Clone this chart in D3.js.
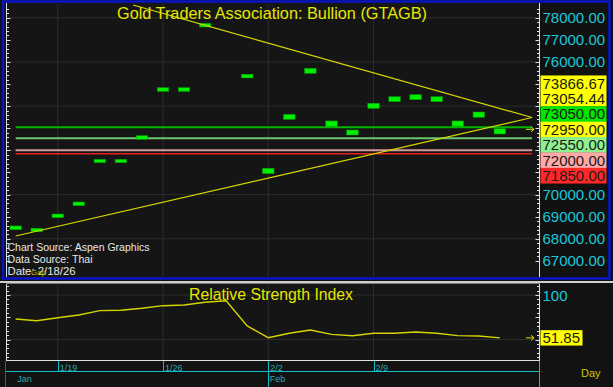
<!DOCTYPE html>
<html>
<head>
<style>
  body {
    margin: 0;
    background-color: #0c0c0c;
  }
  svg {
    display: block;
    font-family: 'Liberation Sans', Arial, sans-serif;
  }
</style>
<script src="https://cdn.jsdelivr.net/npm/d3@7"></script>
</head>
<body>
<script>
// trading days shown on the chart
const days = ['1/15', '1/16', '1/19', '1/20', '1/21', '1/22', '1/23', '1/26', '1/27', '1/28', '1/29', '1/30',
  '2/2', '2/3', '2/4', '2/5', '2/6', '2/9', '2/10', '2/11', '2/12', '2/13', '2/16', '2/17'];

// bar top / bottom (1/29 sits above the visible range)
const barHigh = [68580, 68475, 69120, 69665, 71595, 71595, 72665, 74835, 74835, 77745, null, 75440,
  71190, 73630, 75710, 73330, 72920, 74130, 74425, 74520, 74425, 73330, 73735, 72980];
const barLow = [68410, 68320, 68955, 69500, 71440, 71440, 72500, 74670, 74670, 77580, null, 75275,
  70945, 73405, 75485, 73070, 72695, 73900, 74200, 74290, 74200, 73070, 73495, 72740];

const rsi = [73.0, 71.1, 74.5, 77.5, 82.4, 82.8, 85.1, 88.0, 88.8, 91.8, 93.6, 65.2,
  52.0, 57.0, 60.7, 55.8, 54.3, 57.0, 57.0, 58.4, 57.0, 54.3, 53.9, 51.85];

const weekTicks = ['1/19', '1/26', '2/2', '2/9'];
const monthLabels = ['Jan', 'Feb'];
const monthStarts = ['1/15', '2/2'];

const priceLabels = d3.range(67000, 78001, 1000);
const priceGrid = d3.range(68000, 78001, 2000);

// horizontal study lines
const levels = [73050, 72550, 72000, 71850];
const levelColors = ['#00b400', '#6cc46c', '#d49898', '#e42020'];

// trend lines as [day index, price]
const trendDown = [[5.58, 78574], [24.53, 73486]];
const trendUp = [[0, 68126], [24.53, 73486]];

const tagValues = [73866.67, 73054.44, 73050, 72950, 72550, 72000, 71850];
const tagColors = ['#ffff00', '#ffff00', '#00e600', '#ffff00', '#8ef08e', '#ffa8a8', '#ff2828'];
const lastPrice = 72950;
const rsiLast = 51.85;

const svg = d3.select('body')
  .append('svg')
  .attr('width', 613)
  .attr('height', 387);

const x = d3.scaleLinear().domain([-0.41, 24.86]).range([7, 539]);
const y = d3.scaleLinear().domain([78000, 67000]).range([17.7, 260.9]);
const yr = d3.scaleLinear().domain([100, 50]).range([295, 339.5]);
const dayIdx = d => days.indexOf(d);

// ---- main panel frame
svg.append('rect').attr('x', 0).attr('y', 0).attr('width', 613).attr('height', 281).attr('fill', '#111');
svg.append('rect').attr('x', 6).attr('y', 3).attr('width', 533).attr('height', 274).attr('fill', '#151515');
svg.append('rect')
  .attr('x', 3).attr('y', 1.5).attr('width', 606.5).attr('height', 277)
  .attr('fill', 'none').attr('stroke', '#0a14c8').attr('stroke-width', 2.5);
svg.append('line')
  .attr('x1', 0).attr('x2', 613).attr('y1', 282).attr('y2', 282)
  .attr('stroke', '#cfcfcf').attr('stroke-width', 2);

svg.append('clipPath').attr('id', 'mainclip')
  .append('rect').attr('x', 6).attr('y', 4).attr('width', 533).attr('height', 273);

const main = svg.append('g').attr('clip-path', 'url(#mainclip)');

main.selectAll('.hgrid').data(priceGrid).join('line')
  .attr('x1', 7).attr('x2', 539)
  .attr('y1', d => y(d)).attr('y2', d => y(d))
  .attr('stroke', '#2c2c2c');
main.selectAll('.vgrid').data(weekTicks).join('line')
  .attr('x1', d => x(dayIdx(d))).attr('x2', d => x(dayIdx(d)))
  .attr('y1', 3).attr('y2', 277)
  .attr('stroke', '#2c2c2c');

// level lines
main.selectAll('.level').data(levels).join('line')
  .attr('x1', x(0)).attr('x2', x(24.53))
  .attr('y1', d => y(d)).attr('y2', d => y(d))
  .attr('stroke', (d, i) => levelColors[i])
  .attr('stroke-width', (d, i) => i === 3 ? 1.5 : 2);

// bars
const bars = days.map((d, i) => ({ i, hi: barHigh[i], lo: barLow[i] })).filter(b => b.hi !== null);
main.selectAll('.bar').data(bars).join('rect')
  .attr('x', b => x(b.i) - 5.75)
  .attr('width', 11.5)
  .attr('y', b => y(b.hi))
  .attr('height', b => y(b.lo) - y(b.hi))
  .attr('fill', '#00ee00')
  .attr('stroke', '#00a000')
  .attr('stroke-width', 0.5);

// trend lines
const priceLine = d3.line().x(d => x(d[0])).y(d => y(d[1]));
[trendDown, trendUp].forEach(t => {
  main.append('path').attr('d', priceLine(t))
    .attr('fill', 'none').attr('stroke', '#d8d800').attr('stroke-width', 1.2);
});

// last price arrow
const arrow = (g, yy) => {
  g.append('path')
    .attr('d', `M526,${yy}H534M531,${yy - 2.5}L534,${yy}L531,${yy + 2.5}`)
    .attr('fill', 'none').attr('stroke', '#e0e000').attr('stroke-width', 1);
};
arrow(svg, y(lastPrice));

// axes lines and ticks
const axisTicks = d3.range(67000, 78600, 200).filter(v => y(v) > 4 && y(v) < 276);
svg.append('line').attr('x1', 6.5).attr('x2', 6.5).attr('y1', 3).attr('y2', 277).attr('stroke', '#e0e0e0');
svg.append('line').attr('x1', 539.5).attr('x2', 539.5).attr('y1', 3).attr('y2', 277).attr('stroke', '#e0e0e0');
svg.selectAll('.ltick').data(axisTicks).join('line')
  .attr('x1', 6.5).attr('x2', v => 6.5 + (v % 1000 === 0 ? 4 : 2.5))
  .attr('y1', v => Math.round(y(v)) + 0.5).attr('y2', v => Math.round(y(v)) + 0.5)
  .attr('stroke', '#e0e0e0');
svg.selectAll('.rtick').data(axisTicks).join('line')
  .attr('x1', 539.5).attr('x2', v => 539.5 - (v % 1000 === 0 ? 4 : 2.5))
  .attr('y1', v => Math.round(y(v)) + 0.5).attr('y2', v => Math.round(y(v)) + 0.5)
  .attr('stroke', '#e0e0e0');

// stacked value tags, anchored on the last price
const tagH = 15.4;
const tagY = tagValues.map(v => y(v));
const k = tagValues.indexOf(lastPrice);
for (let i = k - 1; i >= 0; i--) tagY[i] = Math.min(tagY[i], tagY[i + 1] - tagH);
for (let i = k + 1; i < tagValues.length; i++) tagY[i] = Math.max(tagY[i], tagY[i - 1] + tagH);

const tags = svg.selectAll('.tag').data(tagValues).join('g');
tags.append('rect')
  .attr('x', 540.5).attr('width', 66)
  .attr('y', (d, i) => tagY[i] - tagH / 2).attr('height', tagH + 0.3)
  .attr('fill', (d, i) => tagColors[i]);
tags.append('text')
  .attr('x', 542.5).attr('y', (d, i) => tagY[i] + 5.4)
  .attr('font-size', 15).attr('fill', '#1a1a1a')
  .text(d => d.toFixed(2));

// cyan price labels where they do not collide with tags
svg.selectAll('.plabel').data(priceLabels.filter(v => tagY.every(t => Math.abs(t - y(v)) > 15)))
  .join('text')
  .attr('x', 542.5).attr('y', v => y(v) + 5.5)
  .attr('font-size', 15).attr('fill', '#1cc7d8')
  .text(v => v.toFixed(2));

// title and notes
svg.append('text')
  .attr('x', 117).attr('y', 19)
  .attr('font-size', 17).attr('fill', '#e6e600')
  .attr('textLength', 310).attr('lengthAdjust', 'spacingAndGlyphs')
  .text('Gold Traders Association: Bullion (GTAGB)');

const notes = [['Chart Source: Aspen Graphics', 250.7, 142], ['Data Source: Thai', 263.3, 85], ['Date: 2/18/26', 275, 68]];
notes.forEach(n => {
  svg.append('text')
    .attr('x', 7.5).attr('y', n[1])
    .attr('font-size', 10).attr('fill', '#e6e6e6')
    .attr('textLength', n[2]).attr('lengthAdjust', 'spacingAndGlyphs')
    .text(n[0]);
});
svg.append('text')
  .attr('x', 31).attr('y', 275)
  .attr('font-size', 8).attr('fill', '#b8b800')
  .text('Gap');

// ---- RSI panel
svg.append('rect').attr('x', 0).attr('y', 283).attr('width', 613).attr('height', 104).attr('fill', '#121212');
svg.append('rect').attr('x', 6).attr('y', 284).attr('width', 533).attr('height', 76).attr('fill', '#151515');

svg.selectAll('.rgrid').data([100, 50]).join('line')
  .attr('x1', 7).attr('x2', 539)
  .attr('y1', d => yr(d)).attr('y2', d => yr(d))
  .attr('stroke', '#2c2c2c');
svg.selectAll('.rvgrid').data(weekTicks).join('line')
  .attr('x1', d => x(dayIdx(d))).attr('x2', d => x(dayIdx(d)))
  .attr('y1', 284).attr('y2', 360)
  .attr('stroke', '#2c2c2c');

const rsiTicks = d3.range(30, 115, 5).filter(v => yr(v) > 285 && yr(v) < 359);
svg.append('line').attr('x1', 6.5).attr('x2', 6.5).attr('y1', 284).attr('y2', 360.5).attr('stroke', '#e0e0e0');
svg.append('line').attr('x1', 539.5).attr('x2', 539.5).attr('y1', 284).attr('y2', 360.5).attr('stroke', '#e0e0e0');
svg.append('line').attr('x1', 6).attr('x2', 540).attr('y1', 360.5).attr('y2', 360.5).attr('stroke', '#e0e0e0');
svg.append('line').attr('x1', 6).attr('x2', 540).attr('y1', 283.5).attr('y2', 283.5).attr('stroke', '#777');
svg.selectAll('.rlt').data(rsiTicks).join('line')
  .attr('x1', 6.5).attr('x2', v => 6.5 + (v % 25 === 0 ? 4 : 2.5))
  .attr('y1', v => Math.round(yr(v)) + 0.5).attr('y2', v => Math.round(yr(v)) + 0.5)
  .attr('stroke', '#e0e0e0');
svg.selectAll('.rrt').data(rsiTicks).join('line')
  .attr('x1', 539.5).attr('x2', v => 539.5 - (v % 25 === 0 ? 4 : 2.5))
  .attr('y1', v => Math.round(yr(v)) + 0.5).attr('y2', v => Math.round(yr(v)) + 0.5)
  .attr('stroke', '#e0e0e0');

svg.append('path')
  .attr('d', d3.line().x((d, i) => x(i)).y(d => yr(d))(rsi))
  .attr('fill', 'none').attr('stroke', '#d4d400').attr('stroke-width', 1.4);

arrow(svg, yr(rsiLast));

svg.append('rect')
  .attr('x', 540.5).attr('width', 42)
  .attr('y', yr(rsiLast) - tagH / 2).attr('height', tagH)
  .attr('fill', '#ffff00');
svg.append('text')
  .attr('x', 542.5).attr('y', yr(rsiLast) + 5.4)
  .attr('font-size', 15).attr('fill', '#1a1a1a')
  .text(rsiLast.toFixed(2));
svg.append('text')
  .attr('x', 542.5).attr('y', yr(100) + 5.5)
  .attr('font-size', 15).attr('fill', '#1cc7d8')
  .text('100');

svg.append('text')
  .attr('x', 189).attr('y', 300)
  .attr('font-size', 16).attr('fill', '#e6e600')
  .attr('textLength', 164).attr('lengthAdjust', 'spacingAndGlyphs')
  .text('Relative Strength Index');

// ---- date axis
const cyan = '#14bcc6';
svg.append('line').attr('x1', 6).attr('x2', 539).attr('y1', 371.5).attr('y2', 371.5).attr('stroke', cyan);
svg.append('line').attr('x1', 539.5).attr('x2', 539.5).attr('y1', 361).attr('y2', 387).attr('stroke', cyan);
svg.append('line').attr('x1', 5.5).attr('x2', 5.5).attr('y1', 361).attr('y2', 387).attr('stroke', '#555');

svg.selectAll('.wtick').data(weekTicks).join('line')
  .attr('x1', d => Math.round(x(dayIdx(d))) + 0.5).attr('x2', d => Math.round(x(dayIdx(d))) + 0.5)
  .attr('y1', 361).attr('y2', 371.5)
  .attr('stroke', cyan);
svg.selectAll('.wlabel').data(weekTicks).join('text')
  .attr('x', d => x(dayIdx(d)) + 2).attr('y', 371)
  .attr('font-size', 9).attr('fill', '#2aa8b0')
  .text(d => d);

svg.selectAll('.mtick').data(monthStarts.filter(d => dayIdx(d) > 0)).join('line')
  .attr('x1', d => Math.round(x(dayIdx(d))) + 0.5).attr('x2', d => Math.round(x(dayIdx(d))) + 0.5)
  .attr('y1', 361).attr('y2', 387)
  .attr('stroke', cyan);
svg.selectAll('.mlabel').data(monthStarts).join('text')
  .attr('x', d => x(dayIdx(d)) + 1.5).attr('y', 382)
  .attr('font-size', 9).attr('fill', '#2aa8b0')
  .text((d, i) => monthLabels[i]);

svg.append('text')
  .attr('x', 581).attr('y', 377)
  .attr('font-size', 11).attr('fill', '#c8c800')
  .text('Day');
</script>
</body>
</html>
